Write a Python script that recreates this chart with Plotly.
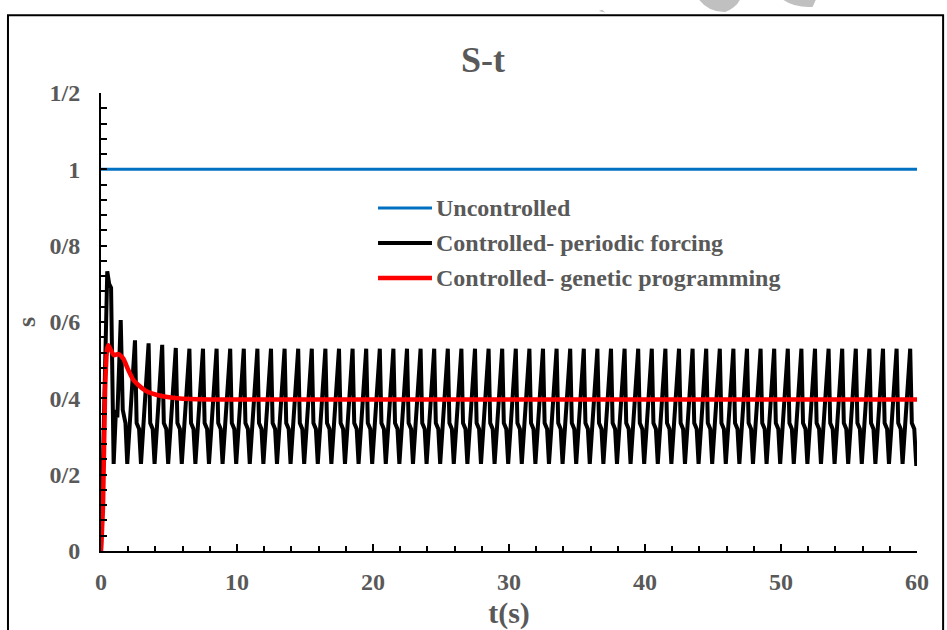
import plotly.graph_objects as go

# ---- data -------------------------------------------------------------
# uncontrolled response
t_unc = [0, 60]
s_unc = [1.0, 1.0]

# genetic-programming controller response
t_gp = [0, 0.15, 0.3, 0.45, 0.54, 0.75, 0.95, 1.27, 1.64, 2.01, 2.38, 2.74,
        3.24, 3.73, 4.46, 5.44, 6.5, 8.0, 10.0, 60]
s_gp = [0, 0.12, 0.42, 0.53, 0.539, 0.525, 0.513, 0.516, 0.504, 0.474, 0.448,
        0.435, 0.421, 0.413, 0.406, 0.401, 0.398, 0.397, 0.397, 0.397]

# periodic-forcing controller: start-up transient (first two cycles)
t_pf_start = [0, 0.46, 0.6, 0.74, 0.93, 1.1, 1.2, 1.45, 1.6, 1.8, 1.93]
s_pf_start = [0, 0.733, 0.70, 0.69, 0.228, 0.37, 0.35, 0.605, 0.37, 0.335, 0.228]

# periodic-forcing controller: per-cycle peak values from cycle 2 to cycle 59
pf_peaks = [0.552, 0.544, 0.54, 0.532, 0.53] + [0.53] * 53
pf_kink_hi = 0.335     # shoulder on the falling edge
pf_kink_lo = 0.32
pf_trough = 0.228
# time of each feature within a 1 s forcing cycle
pf_phase = [0.5, 0.62, 0.8, 0.94]

# y tick labels (Persian decimal separator)
y_tickvals = [0, 0.2, 0.4, 0.6, 0.8, 1.0, 1.2]
y_ticktext = ["0", "0/2", "0/4", "0/6", "0/8", "1", "1/2"]
x_tickvals = [0, 10, 20, 30, 40, 50, 60]

series_names = ["Uncontrolled", "Controlled- periodic forcing",
                "Controlled- genetic programming"]
series_colors = ["#0070C0", "#000000", "#FF0000"]
series_widths = [3, 4, 4.5]

# ---- build periodic-forcing series -------------------------------------
t_pf = list(t_pf_start)
s_pf = list(s_pf_start)
for i, pk in enumerate(pf_peaks):
    k = 2 + i
    t_pf += [k + pf_phase[0], k + pf_phase[1], k + pf_phase[2], k + pf_phase[3]]
    s_pf += [pk, pf_kink_hi, pf_kink_lo, pf_trough]
t_pf.append(60)
s_pf.append(pf_trough)

# ---- figure -----------------------------------------------------------
FONT = "Times New Roman, Liberation Serif, serif"
GREY = "#595959"

fig = go.Figure()
fig.add_trace(go.Scatter(x=t_unc, y=s_unc, mode="lines", name=series_names[0],
                         line=dict(color=series_colors[0], width=series_widths[0])))
fig.add_trace(go.Scatter(x=t_pf, y=s_pf, mode="lines", name=series_names[1],
                         line=dict(color=series_colors[1], width=series_widths[1])))
fig.add_trace(go.Scatter(x=t_gp, y=s_gp, mode="lines", name=series_names[2],
                         line=dict(color=series_colors[2], width=series_widths[2],
                                   shape="spline", smoothing=0.6)))

axis_common = dict(showline=True, linecolor="black", linewidth=2,
                   showgrid=False, zeroline=False, ticks="inside",
                   tickcolor="black", tickwidth=2, automargin=False,
                   tickfont=dict(family=FONT, size=24, color=GREY, weight="bold"))

fig.update_xaxes(range=[0, 60], tickvals=x_tickvals, ticklen=7,
                 minor=dict(ticks="inside", dtick=2, ticklen=5, tickcolor="black",
                            tickwidth=2),
                 ticklabelstandoff=8,
                 title=dict(text="t(s)", standoff=8,
                            font=dict(family=FONT, size=30, color=GREY, weight="bold")),
                 **axis_common)
fig.update_yaxes(range=[0, 1.2], tickvals=y_tickvals, ticktext=y_ticktext, ticklen=6,
                 minor=dict(ticks="inside", dtick=0.04, ticklen=6, tickcolor="black",
                            tickwidth=2),
                 ticklabelstandoff=14,
                 title=dict(text="s", standoff=6,
                            font=dict(family=FONT, size=26, color=GREY, weight="bold")),
                 **axis_common)

fig.update_layout(
    width=947, height=630,
    margin=dict(l=101, r=30, t=93, b=79),
    paper_bgcolor="white", plot_bgcolor="white",
    title=dict(text="S-t", x=0.51, xanchor="center", y=0.905, yanchor="middle",
               font=dict(family=FONT, size=36, color=GREY, weight="bold")),
    showlegend=False,
)

# legend: sample line + label for each series
legend_rows_y = [0.749, 0.6725, 0.596]
for name, color, width, ly in zip(series_names, series_colors, series_widths,
                                  legend_rows_y):
    fig.add_shape(type="line", xref="paper", yref="paper",
                  x0=0.3395, x1=0.4056, y0=ly, y1=ly,
                  line=dict(color=color, width=width))
    fig.add_annotation(xref="paper", yref="paper", x=0.4085, y=ly,
                       xanchor="left", yanchor="middle", showarrow=False,
                       text=name,
                       font=dict(family=FONT, size=24, color=GREY, weight="bold"))

# outer frame of the figure
fig.add_shape(type="rect", xref="paper", yref="paper",
              x0=-0.114, x1=1.032, y0=-0.25, y1=1.170,
              line=dict(color="black", width=2), layer="above")

# faint grey logo fragments above the frame
for path in [
    "M 0.610,1.179 L 0.618,1.176 L 0.614,1.182 Z",
    "M 0.733,1.2035 Q 0.745,1.176 0.765,1.177 Q 0.778,1.186 0.783,1.2035 Z",
    "M 0.836,1.2035 Q 0.850,1.186 0.872,1.188 L 0.876,1.2035 Z",
]:
    fig.add_shape(type="path", xref="paper", yref="paper", path=path,
                  fillcolor="#c0c0c0", line=dict(width=0), layer="above")

fig.write_html("out.html")
